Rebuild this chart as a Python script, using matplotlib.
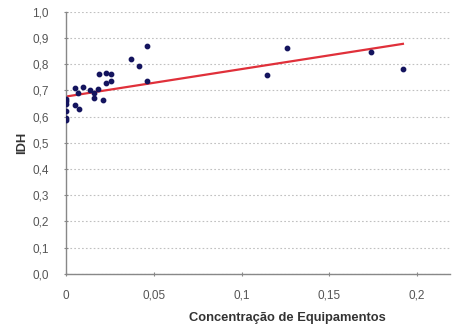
import matplotlib
matplotlib.use("Agg")
import matplotlib.pyplot as plt

plt.rcParams['font.family'] = ['Liberation Sans', 'DejaVu Sans']

# data
conc = [0.0, 0.0, 0.0, 0.0, 0.0, 0.0,
        0.005, 0.0098, 0.007, 0.005, 0.0074, 0.0136, 0.016, 0.016,
        0.018, 0.021, 0.0187, 0.023, 0.0254, 0.023, 0.0254,
        0.0367, 0.0415, 0.046, 0.046,
        0.1146, 0.126, 0.174, 0.192]
idh = [0.594, 0.622, 0.66, 0.65, 0.667, 0.587,
       0.711, 0.715, 0.69, 0.645, 0.629, 0.70, 0.69, 0.673,
       0.705, 0.664, 0.763, 0.766, 0.763, 0.73, 0.738,
       0.82, 0.794, 0.870, 0.737,
       0.760, 0.861, 0.846, 0.782]

trend_x = [0.0, 0.192]
trend_y = [0.677, 0.878]

xticks = [0, 0.05, 0.1, 0.15, 0.2]
xtick_labels = ['0', '0,05', '0,1', '0,15', '0,2']
yticks = [0.0, 0.1, 0.2, 0.3, 0.4, 0.5, 0.6, 0.7, 0.8, 0.9, 1.0]
ytick_labels = ['0,0', '0,1', '0,2', '0,3', '0,4', '0,5', '0,6', '0,7', '0,8', '0,9', '1,0']

fig = plt.figure(figsize=(4.53, 3.30), dpi=100)
ax = fig.add_axes([0.146, 0.170, 0.848, 0.794])

ax.plot(trend_x, trend_y, color='#e0303a', linewidth=1.6, zorder=2)
ax.scatter(conc, idh, s=10, color='#14145e', zorder=3)

ax.set_xlim(0, 0.219)
ax.set_ylim(0, 1.0)
ax.set_xticks(xticks)
ax.set_xticklabels(xtick_labels)
ax.set_yticks(yticks)
ax.set_yticklabels(ytick_labels)

for sp in ['top', 'right']:
    ax.spines[sp].set_visible(False)
for sp in ['left', 'bottom']:
    ax.spines[sp].set_color('#888888')
    ax.spines[sp].set_linewidth(1.0)

ax.yaxis.grid(True, linestyle=(0, (1.5, 2.0)), color='#c0c0c0', linewidth=0.8)
ax.tick_params(axis='both', colors='#888888', labelcolor='#555555', labelsize=8.5,
               length=3, direction='inout')
ax.tick_params(axis='y', pad=11)
ax.tick_params(axis='x', pad=10)

ax.set_xlabel('Concentração de Equipamentos', fontsize=9.3, fontweight='bold',
              color='#333333')
ax.set_ylabel('IDH', fontsize=9.3, fontweight='bold', color='#333333')
ax.xaxis.set_label_coords(0.575, -0.145)
ax.yaxis.set_label_coords(-0.10, 0.5)

fig.savefig('out.png', dpi=100)
